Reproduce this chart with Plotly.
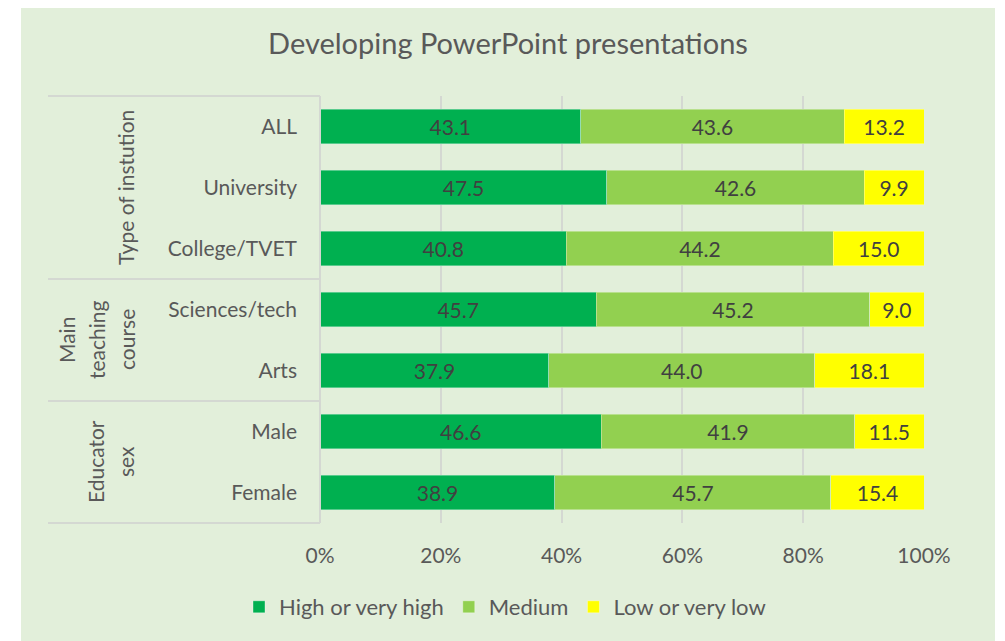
import plotly.graph_objects as go

categories = ["ALL", "University", "College/TVET", "Sciences/tech", "Arts", "Male", "Female"]
high = [43.1, 47.5, 40.8, 45.7, 37.9, 46.6, 38.9]
medium = [43.6, 42.6, 44.2, 45.2, 44.0, 41.9, 45.7]
low = [13.2, 9.9, 15.0, 9.0, 18.1, 11.5, 15.4]
series_names = ["High or very high", "Medium", "Low or very low"]
colors = ["#00B050", "#92D050", "#FFFF00"]
group_labels = [["Type of instution"], ["Main", "teaching", "course"], ["Educator", "sex"]]
x_ticks = [0, 20, 40, 60, 80, 100]

# page offset (body margin) so coordinates below are in screenshot pixels
OX, OY = 8, 8
W, H = 1005 - OX, 641 - OY
L, R, T, B = 320 - OX, 924 - OX, 96 - OY, 523 - OY
FONT = "Lato"
GRAY = "#595959"
LINE = "#D4D8D2"


def px(x):
    return (x - OX - L) / (R - L)


def py(y):
    return (B - (y - OY)) / (B - T)


fig = go.Figure()
for name, vals, col in zip(series_names, [high, medium, low], colors):
    fig.add_trace(go.Bar(
        y=categories, x=vals, name=name, orientation="h",
        marker=dict(color=col, line=dict(color="rgba(255,255,255,0.35)", width=1)),
        text=[f"{v:.1f}" for v in vals], texttemplate="%{text}",
        textposition="inside", insidetextanchor="middle", textangle=0,
        textfont=dict(family=FONT, size=21, color="#404040"),
        constraintext="none", hoverinfo="skip",
    ))

shapes = [
    dict(type="rect", xref="paper", yref="paper", x0=px(21), x1=px(995), y0=py(645), y1=py(4),
         fillcolor="#E2EFDA", line=dict(width=0), layer="below"),
]
for yy in [96, 279, 401, 523]:
    shapes.append(dict(type="line", xref="paper", yref="paper", x0=px(48), x1=px(320),
                       y0=py(yy), y1=py(yy), line=dict(color=LINE, width=2)))
shapes.append(dict(type="line", xref="paper", yref="paper", x0=0, x1=0, y0=0, y1=1,
                   line=dict(color=LINE, width=2)))

# group label placement: (right-most line x, centre y), lines spaced 30 px apart
group_pos = [(125, 188), (126, 340), (125, 462)]
annotations = []
for lines, (gx, gy) in zip(group_labels, group_pos):
    n = len(lines)
    for i, line in enumerate(lines):
        annotations.append(dict(
            text=line, x=px(gx - 30 * (n - 1 - i)), y=py(gy), textangle=-90,
            xref="paper", yref="paper", showarrow=False, xanchor="center", yanchor="middle",
            font=dict(family=FONT, size=21, color=GRAY)))

fig.update_layout(
    width=W, height=H,
    margin=dict(l=L, r=W - R, t=T, b=H - B, pad=0),
    paper_bgcolor="white", plot_bgcolor="rgba(0,0,0,0)",
    barmode="stack", barnorm="percent", bargap=0.44,
    title=dict(text="Developing PowerPoint presentations", xref="container",
               x=(508 - OX) / W, xanchor="center",
               yref="container", y=1 - (44 - OY) / H, yanchor="middle",
               font=dict(family=FONT, size=29, color=GRAY)),
    font=dict(family=FONT, size=21, color=GRAY),
    xaxis=dict(range=[0, 100], tickvals=x_ticks, ticktext=[f"{t}%" for t in x_ticks],
               showgrid=True, gridcolor=LINE, gridwidth=2, zeroline=False,
               showline=False, ticks="", ticklabelstandoff=18,
               tickfont=dict(family=FONT, size=21, color=GRAY), fixedrange=True),
    yaxis=dict(autorange="reversed", showgrid=False, ticks="", showline=False,
               ticklabelstandoff=22, tickfont=dict(family=FONT, size=21, color=GRAY)),
    legend=dict(orientation="h", traceorder="normal", x=px(505), xanchor="center",
                y=py(607), yanchor="middle",
                font=dict(family=FONT, size=22, color=GRAY), bgcolor="rgba(0,0,0,0)",
                itemwidth=30, tracegroupgap=0),
    shapes=shapes, annotations=annotations, showlegend=True,
)

fig.write_html("out.html")
